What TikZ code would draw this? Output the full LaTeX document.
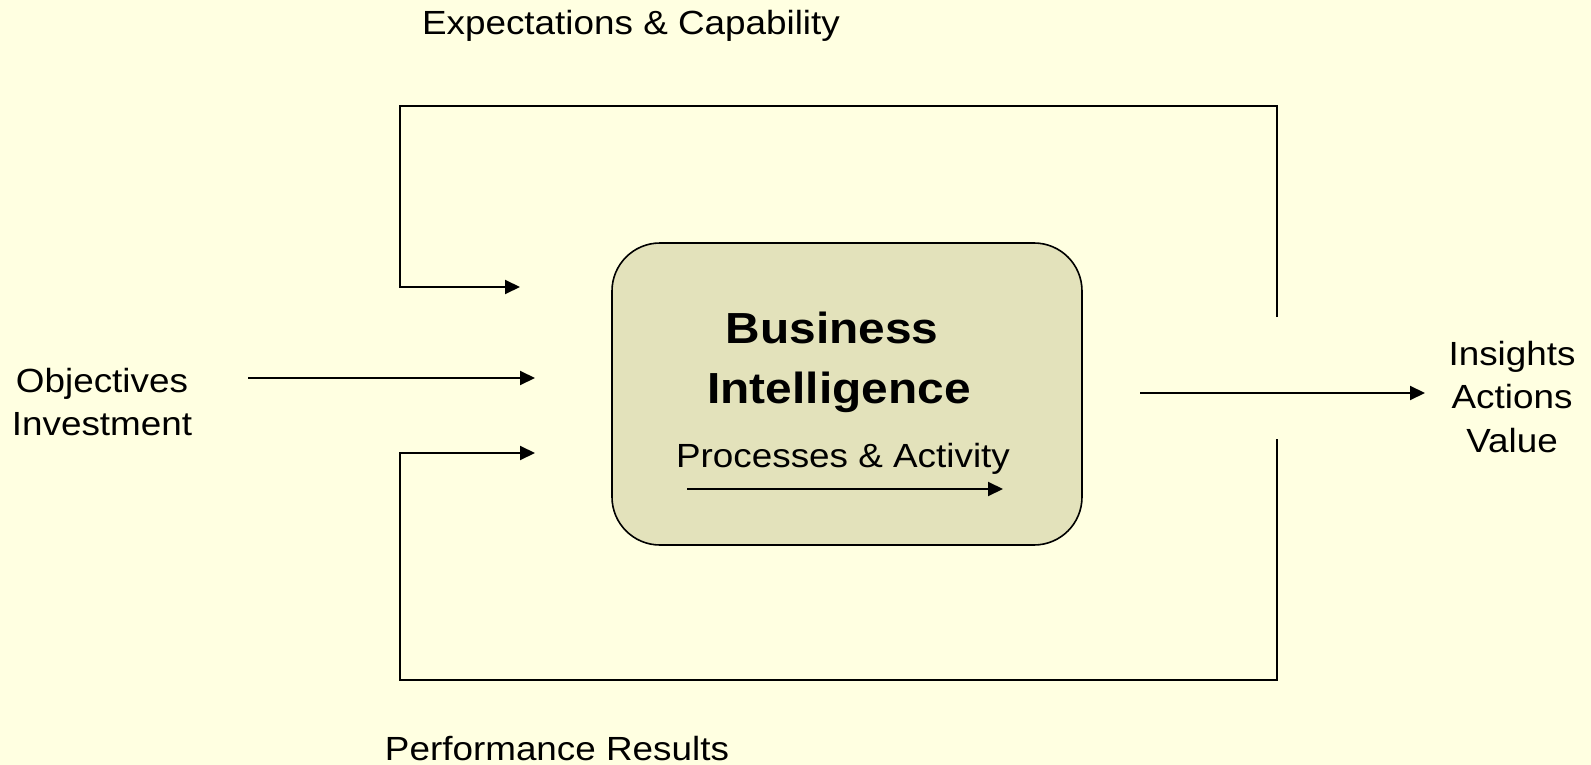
\documentclass[tikz,border=0pt]{standalone}
\usepackage{fontspec}
\setmainfont[FakeStretch=1.1]{Liberation Sans}
\usetikzlibrary{arrows.meta}
\definecolor{bgyellow}{RGB}{255,255,225}
\definecolor{boxfill}{RGB}{227,226,187}
\tikzset{
  conn/.style={line width=2pt, draw=black},
  arr/.style={conn, -{Triangle[length=15pt,width=14pt]}},
  lbl/.style={inner sep=0pt, anchor=base, font=\fontsize{33.5}{40}\selectfont},
  title/.style={inner sep=0pt, anchor=base, font=\fontsize{43.5}{52}\selectfont\bfseries},
  bibox/.style={draw=black, line width=1.6pt, fill=boxfill, rounded corners=48pt,
    minimum width=470pt, minimum height=302pt, inner sep=0pt}
}
\begin{document}
\begin{tikzpicture}[x=1pt,y=-1pt]
\fill[bgyellow] (0,0) rectangle (1591,765);
\useasboundingbox (0,0) rectangle (1591,765);

% central box
\node[bibox] (bi) at (847,394) {};
\node[title] (bi1) at (832,343) {Business};
\node[title] (bi2) at (839,403) {Intelligence};
\node[lbl] (proc) at (843,467) {Processes \& Activity};
\coordinate (pa) at (687,489);
\coordinate (pb) at (1003,489);
\draw[arr] (pa) -- (pb);

% labels
\node[lbl] (exp) at (631,35) {Expectations \& Capability};
\node[lbl] (perf) at (557,760) {Performance Results};
\node[lbl] (obj) at (102,392) {Objectives};
\node[lbl] (inv) at (102,435) {Investment};
\node[lbl] (ins) at (1512,365) {Insights};
\node[lbl] (act) at (1512,408) {Actions};
\node[lbl] (val) at (1512,452) {Value};

% top loop
\coordinate (tr) at (1277,317);
\coordinate (tl) at (400,106);
\coordinate (te) at (520,287);
\draw[arr] (tr) |- (tl) |- (te);

% bottom loop
\coordinate (br) at (1277,439);
\coordinate (bl) at (400,680);
\coordinate (be) at (535,453);
\draw[arr] (br) |- (bl) |- (be);

% input arrow
\coordinate (ia) at (248,378);
\coordinate (ib) at (535,378);
\draw[arr] (ia) -- (ib);

% output arrow
\coordinate (oa) at (1140,393);
\coordinate (ob) at (1425,393);
\draw[arr] (oa) -- (ob);
\end{tikzpicture}
\end{document}
